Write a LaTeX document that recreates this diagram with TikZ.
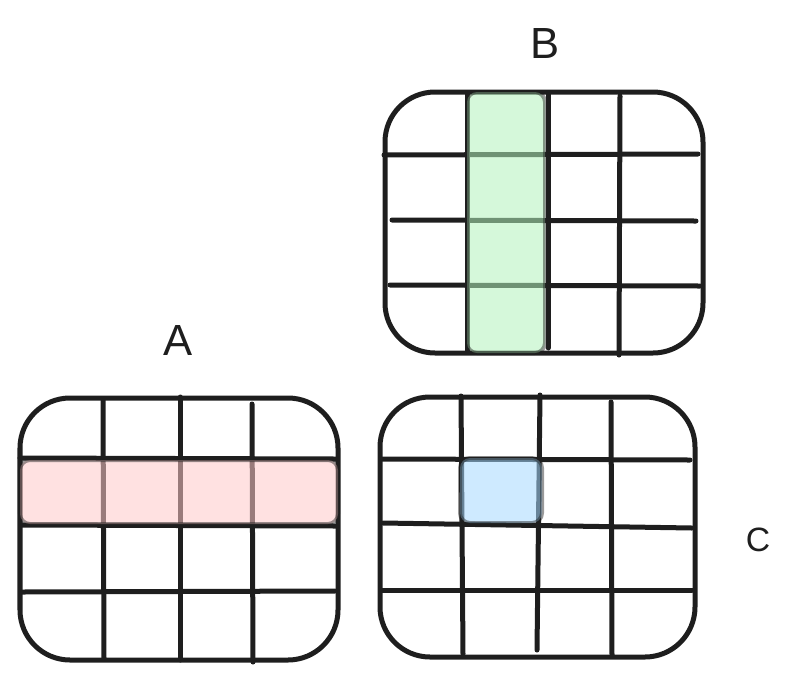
\documentclass[tikz,border=0pt]{standalone}
\usepackage{fontspec}
\setmainfont{Liberation Sans}
\usetikzlibrary{positioning}
\definecolor{ink}{HTML}{1E1E1E}
\definecolor{rowred}{HTML}{FFC9C9}
\definecolor{colgreen}{HTML}{B2F2BB}
\definecolor{cellblue}{HTML}{A5D8FF}

\begin{document}
\begin{tikzpicture}[
    x=0.025cm, y=-0.025cm,
    matbox/.style={draw=ink, line width=1.25mm, rounded corners=1.25cm},
    gridline/.style={draw=ink, line width=1.25mm, line cap=round},
    hilite/.style={draw=ink, draw opacity=0.45, line width=1mm,
        fill opacity=0.55, rounded corners=0.25cm},
    matname/.style={font=\fontsize{31}{36}\selectfont, text=ink},
]
\useasboundingbox (0,0) rectangle (791,680);

% Matrix A
\draw[matbox] (20,398) rectangle (338,660);
\draw[gridline] (103,400) -- (104,658);
\draw[gridline] (180,397) -- (180,660);
\draw[gridline] (252,404) -- (253,662);
\draw[gridline] (20,458) -- (336,459);
\draw[gridline] (22,525) -- (336,526);
\draw[gridline] (22,592) -- (335,591);
\draw[hilite, fill=rowred] (20,460) rectangle (338,524);
\node[matname] (nameA) at (178,340) {A};

% Matrix B
\draw[matbox] (385,92) rectangle (703,353);
\draw[gridline] (467,94) -- (467,352);
\draw[gridline] (548,94) -- (548,348);
\draw[gridline] (620,96) -- (619,355);
\draw[gridline] (384,155) -- (698,154);
\draw[gridline] (392,220) -- (696,221);
\draw[gridline] (390,285) -- (700,286);
\draw[hilite, fill=colgreen] (467,92) rectangle (545,353);
\node[matname] (nameB) at (545,43) {B};

% Matrix C
\draw[matbox] (380,397) rectangle (695,657);
\draw[gridline] (461,396) -- (463,654);
\draw[gridline] (540,395) -- (537,650);
\draw[gridline] (611,402) -- (612,655);
\draw[gridline] (381,459) -- (690,460);
\draw[gridline] (383,523) -- (692,528);
\draw[gridline] (382,590) -- (692,590);
\draw[hilite, fill=cellblue] (460,458) rectangle (542,523);
\node[matname, font=\fontsize{24}{28}\selectfont] (nameC) at (758,540) {C};

\end{tikzpicture}
\end{document}
